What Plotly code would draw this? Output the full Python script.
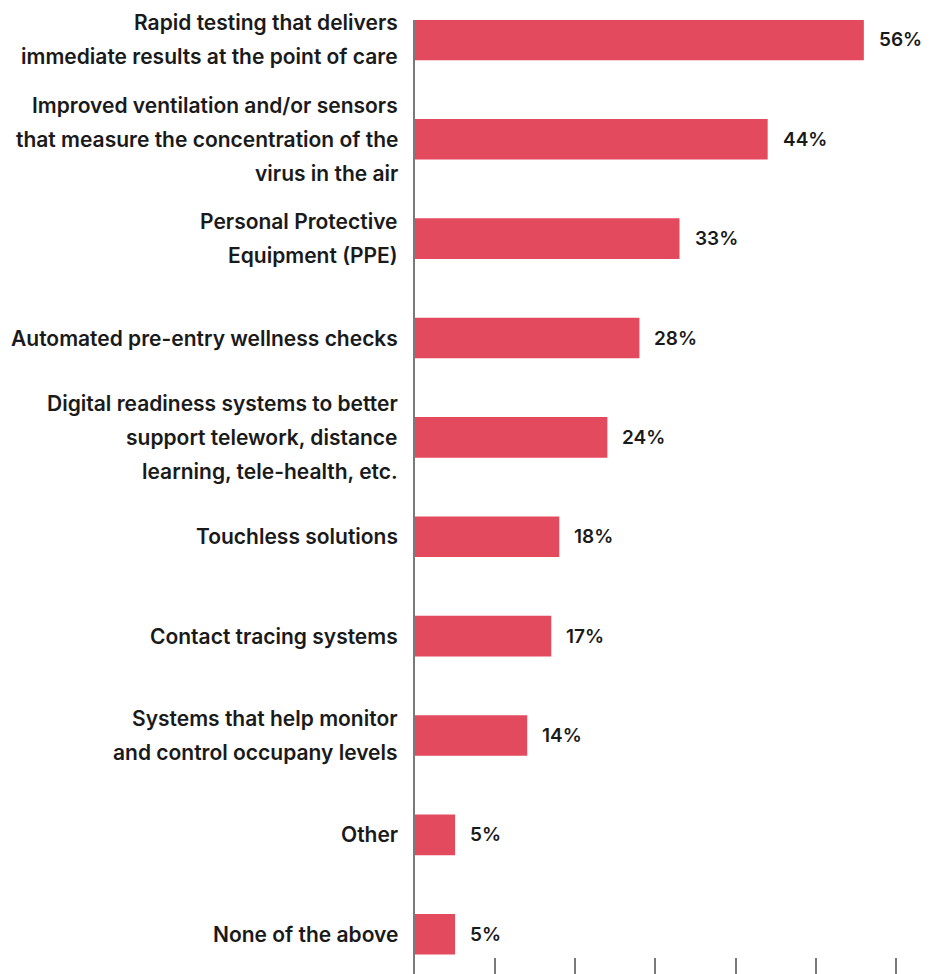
import plotly.graph_objects as go

# Survey responses: technologies seen as most useful
categories = [
    "Rapid testing that delivers\nimmediate results at the point of care",
    "Improved ventilation and/or sensors\nthat measure the concentration of the\nvirus in the air",
    "Personal Protective\nEquipment (PPE)",
    "Automated pre-entry wellness checks",
    "Digital readiness systems to better\nsupport telework, distance\nlearning, tele-health, etc.",
    "Touchless solutions",
    "Contact tracing systems",
    "Systems that help monitor\nand control occupany levels",
    "Other",
    "None of the above",
]
percent = [56, 44, 33, 28, 24, 18, 17, 14, 5, 5]

BAR_COLOR = "#E44A5E"
TEXT_COLOR = "#1a1a1a"
AXIS_COLOR = "#7a7a7a"
FONT = "Inter"
LINE_STEP = 34  # vertical spacing between wrapped label lines (px)

idx = list(range(len(categories)))

fig = go.Figure(
    go.Bar(
        x=percent,
        y=idx,
        orientation="h",
        width=0.41,
        marker=dict(color=BAR_COLOR, line=dict(width=0)),
        hoverinfo="skip",
    )
)

annotations = []
for i, (label, val) in enumerate(zip(categories, percent)):
    lines = label.split("\n")
    n = len(lines)
    for j, line in enumerate(lines):
        annotations.append(
            dict(
                xref="paper", x=0, xanchor="right", xshift=-15,
                yref="y", y=i, yanchor="middle",
                yshift=((n - 1) / 2 - j) * LINE_STEP,
                text=line, showarrow=False,
                font=dict(family=FONT, size=21, color=TEXT_COLOR, weight=600),
            )
        )
    annotations.append(
        dict(
            xref="x", x=val, xanchor="left", xshift=13,
            yref="y", y=i, yanchor="middle",
            text=f"{val}%", showarrow=False,
            font=dict(family=FONT, size=19, color=TEXT_COLOR, weight=600),
        )
    )

fig.update_layout(
    width=940,
    height=974,
    margin=dict(l=415, r=0, t=20, b=0),
    paper_bgcolor="white",
    plot_bgcolor="white",
    showlegend=False,
    annotations=annotations,
    xaxis=dict(
        range=[0, 65.5],
        dtick=10,
        tick0=0,
        ticks="inside",
        ticklen=16,
        tickwidth=1.5,
        tickcolor=AXIS_COLOR,
        showticklabels=False,
        showgrid=False,
        zeroline=False,
        showline=False,
        fixedrange=True,
    ),
    yaxis=dict(
        range=[9.4, -0.2],
        showticklabels=False,
        ticks="",
        showgrid=False,
        zeroline=False,
        showline=True,
        linecolor=AXIS_COLOR,
        linewidth=1.5,
        fixedrange=True,
    ),
)

fig.write_html("out.html")
